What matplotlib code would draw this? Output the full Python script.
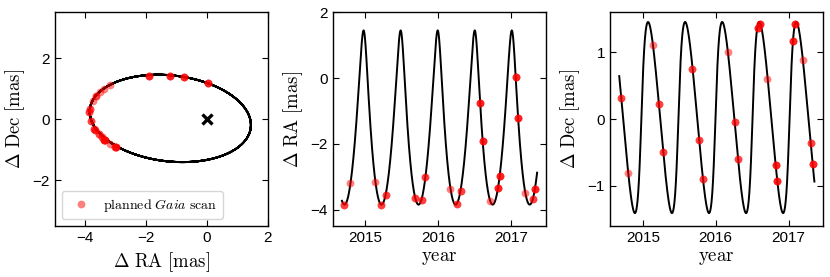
import numpy as np
import matplotlib
matplotlib.use('Agg')
import matplotlib.pyplot as plt

plt.rcParams['mathtext.fontset'] = 'cm'
plt.rcParams['font.family'] = ['Liberation Sans', 'DejaVu Sans']

# Epocas das varreduras planejadas do Gaia (ano) e deslocamentos lidos (mas)
t_scan = [2014.700, 2014.793, 2015.135, 2015.216, 2015.276, 2015.680, 2015.775,
          2015.821, 2016.164, 2016.260, 2016.305, 2016.575, 2016.606, 2016.708,
          2016.822, 2016.840, 2017.061, 2017.091, 2017.192, 2017.303, 2017.328]
ra_scan = [-3.85, -3.19, -3.17, -3.87, -3.55, -3.64, -3.70, -3.02, -3.37, -3.82, -3.44,
           -0.76, -1.91, -3.75, -3.34, -2.98, 0.04, -1.22, -3.50, -3.67, -3.37]
dec_scan = [0.32, -0.80, 1.115, 0.23, -0.49, 0.75, -0.315, -0.90, 1.00, -0.05, -0.60,
            1.37, 1.425, 0.605, -0.69, -0.92, 1.175, 1.425, 0.88, -0.355, -0.67]
# quantas varreduras caem em cada epoca (pontos mais escuros)
n_scan = [2, 1, 1, 2, 2, 2, 2, 2, 1, 2, 2, 3, 3, 1, 3, 3, 3, 3, 1, 2, 3]

# Elementos da orbita (constantes de Thiele-Innes, mas)
period = 0.508
t_peri = 2014.979
ecc = 0.456
B_ti, G_ti = 2.632, -0.34
A_ti, F_ti = -0.053, 1.607
t_start, t_end = 2014.677, 2017.353


def orbit(t):
    ''' Resolve a equacao de Kepler e retorna (dRA, dDec) '''
    M = 2 * np.pi * (t - t_peri) / period
    E = M + ecc * np.sin(M)
    for _ in range(40):
        E = E - (E - ecc * np.sin(E) - M) / (1 - ecc * np.cos(E))
    X = np.cos(E) - ecc
    Y = np.sqrt(1 - ecc**2) * np.sin(E)
    return B_ti * X + G_ti * Y, A_ti * X + F_ti * Y


t = np.linspace(t_start, t_end, 3000)
ra, dec = orbit(t)

t_scan = np.array(t_scan)
ra_scan = np.array(ra_scan)
dec_scan = np.array(dec_scan)
n_scan = np.array(n_scan)

fig = plt.figure(figsize=(8.3, 2.77), dpi=100)
w, h, b = 0.2566, 0.7715, 0.1841
ax1 = fig.add_axes([0.0659, b, w, h])
ax2 = fig.add_axes([0.4008, b, w, h])
ax3 = fig.add_axes([0.7349, b, w, h])

pt = dict(ls='none', marker='o', color='red', alpha=0.5, ms=5.6, mew=0)


def scans(ax, x, y, label=None):
    ax.plot(x, y, label=label, **pt)
    for k in (2, 3):
        sel = n_scan >= k
        ax.plot(x[sel], y[sel], **pt)


ax1.plot(ra, dec, color='black', lw=1.4)
scans(ax1, ra_scan, dec_scan, label=r'$\mathrm{planned}\ \mathit{Gaia}\ \mathrm{scan}$')
ax1.plot(0, 0, 'x', color='black', ms=7, mew=2.4)
ax1.set_xlim(-5, 2)
ax1.set_ylim(-3.5, 3.5)
ax1.set_xticks([-4, -2, 0, 2])
ax1.set_yticks([-2, 0, 2])
ax1.set_xlabel(r'$\Delta\ \mathrm{RA\ [mas]}$', size=13.5)
ax1.set_ylabel(r'$\Delta\ \mathrm{Dec\ [mas]}$', size=13.5)
ax1.legend(loc='lower left', fontsize=10, handletextpad=0.6)

ax2.plot(t, ra, color='black', lw=1.4)
scans(ax2, t_scan, ra_scan)
ax2.set_xlim(2014.55, 2017.47)
ax2.set_ylim(-4.5, 2)
ax2.set_yticks([-4, -2, 0, 2])
ax2.set_ylabel(r'$\Delta\ \mathrm{RA\ [mas]}$', size=13.5)

ax3.plot(t, dec, color='black', lw=1.4)
scans(ax3, t_scan, dec_scan)
ax3.set_xlim(2014.55, 2017.47)
ax3.set_ylim(-1.6, 1.6)
ax3.set_yticks([-1, 0, 1])
ax3.set_ylabel(r'$\Delta\ \mathrm{Dec\ [mas]}$', size=13.5)

for ax in (ax2, ax3):
    ax.set_xticks([2015, 2016, 2017])
    ax.set_xlabel(r'$\mathrm{year}$', size=13.5)

for ax in (ax1, ax2, ax3):
    ax.tick_params(direction='in', top=True, right=True, length=4, width=0.8,
                   labelsize=11)
    for s in ax.spines.values():
        s.set_linewidth(1.0)

fig.savefig('out.png', dpi=100)
